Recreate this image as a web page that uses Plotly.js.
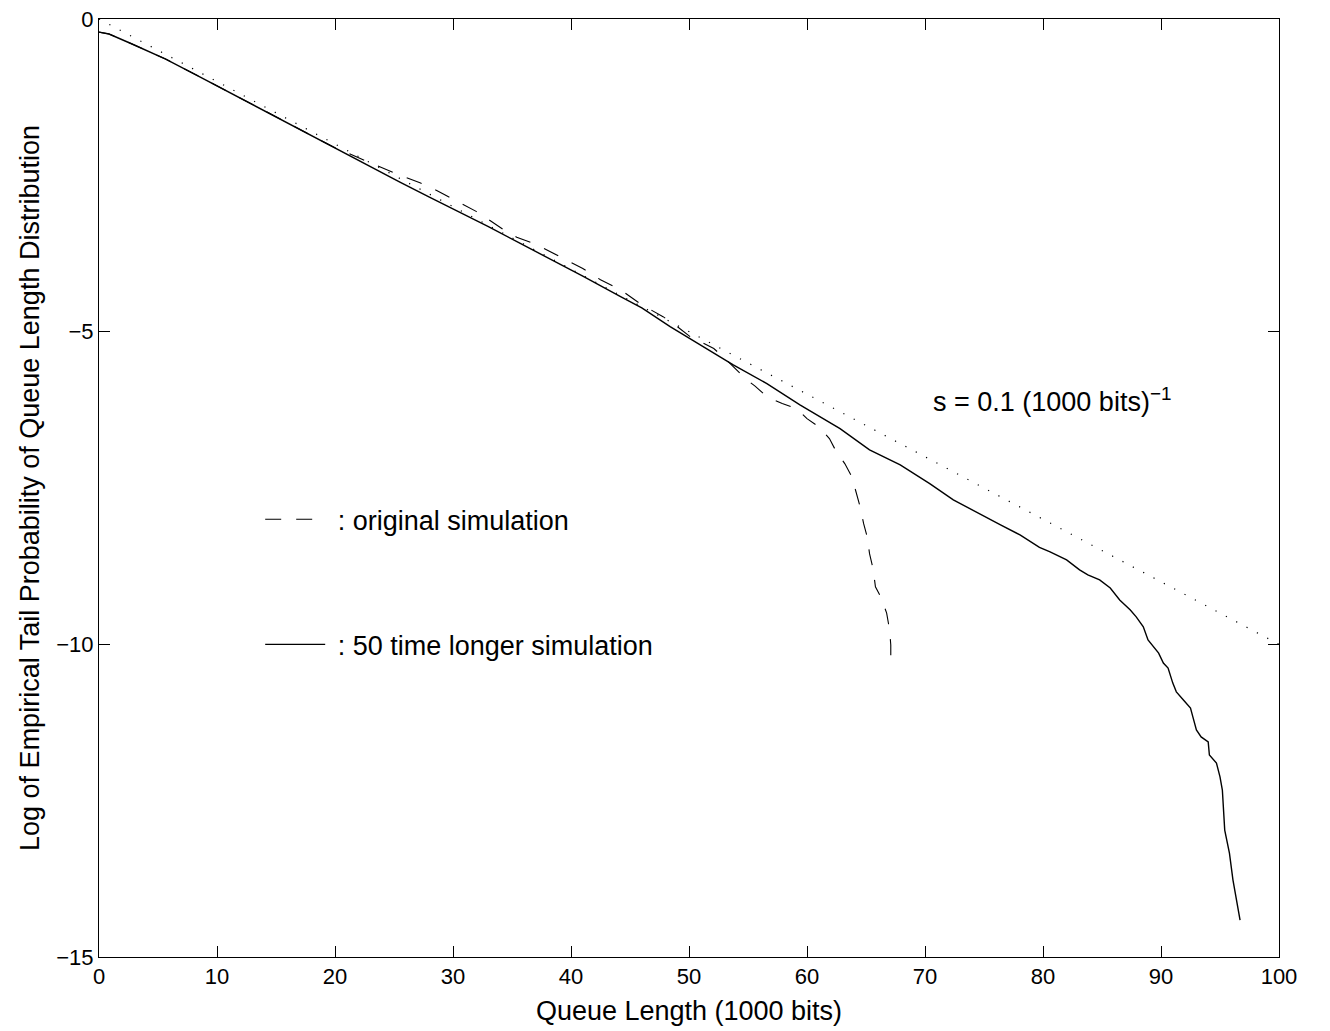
<!DOCTYPE html>
<html>
<head>
<meta charset="utf-8">
<script src="https://cdn.plot.ly/plotly-3.0.1.min.js"></script>
<style>html,body{margin:0;padding:0;background:#fff;}#chart{width:1330px;height:1031px;}</style>
</head>
<body>
<div id="chart"></div>
<script>
// Solid line: 50 times longer simulation
var longX = [0, 0.85, 2.8, 5.65, 8.5, 11.3, 14, 16.95, 19.8, 22, 25.5, 28, 30, 33, 35.7, 38, 41, 44.2, 46, 48.4, 50.9, 53.75, 56.6, 59.4, 62.8, 64.2, 65.3, 67.9, 70.4, 72.4, 75.5, 76.4, 78.05, 79.7, 80.6, 82.0, 83.1, 83.8, 84.8, 85.7, 86.5, 87.4, 87.9, 88.5, 88.9, 89.8, 90.2, 90.6, 91.0, 91.3, 91.9, 92.5, 92.7, 93.0, 93.4, 94.0, 94.1, 94.7, 95.0, 95.2, 95.4, 95.8, 96.1, 96.7];
var longY = [-0.21, -0.24, -0.40, -0.64, -0.92, -1.20, -1.47, -1.76, -2.05, -2.27, -2.61, -2.85, -3.04, -3.32, -3.59, -3.81, -4.11, -4.44, -4.62, -4.92, -5.21, -5.53, -5.83, -6.17, -6.55, -6.74, -6.89, -7.13, -7.43, -7.69, -8.01, -8.09, -8.25, -8.45, -8.52, -8.65, -8.81, -8.89, -8.97, -9.10, -9.29, -9.45, -9.56, -9.72, -9.93, -10.14, -10.30, -10.38, -10.62, -10.76, -10.89, -11.02, -11.16, -11.37, -11.48, -11.56, -11.77, -11.90, -12.12, -12.33, -12.97, -13.34, -13.77, -14.41];

// Dashed line: original simulation
var origX = [0, 0.85, 2.8, 5.65, 8.5, 11.3, 14, 16.95, 19.8, 22, 25, 27.2, 28, 29.3, 32.0, 34.3, 35.4, 37.1, 39.3, 41.0, 42.5, 44.2, 46.0, 47.8, 48.8, 50.1, 52.1, 53.0, 54.9, 55.6, 56.6, 57.9, 59.1, 60.0, 61.0, 61.9, 62.4, 63.2, 63.8, 64.1, 64.5, 64.8, 65.1, 65.3, 65.6, 65.8, 66.3, 66.75, 67.0, 67.1, 67.1];
var origY = [-0.21, -0.24, -0.40, -0.64, -0.92, -1.20, -1.47, -1.76, -2.04, -2.22, -2.46, -2.62, -2.68, -2.81, -3.08, -3.37, -3.49, -3.61, -3.83, -3.99, -4.17, -4.33, -4.57, -4.76, -4.89, -5.08, -5.27, -5.42, -5.77, -5.87, -6.04, -6.15, -6.23, -6.39, -6.52, -6.71, -6.89, -7.11, -7.32, -7.53, -7.80, -8.07, -8.28, -8.55, -8.79, -9.08, -9.26, -9.50, -9.77, -10.01, -10.28];

// Dotted reference line, slope s = 0.1
var refX = [0, 100];
var refY = [0, -10];

var xTicks = [0, 10, 20, 30, 40, 50, 60, 70, 80, 90, 100];
var yTicks = [-15, -10, -5, 0];

var labelOrig = '\u00a0: original simulation';
var labelLong = '\u00a0: 50 time longer simulation';
var slopeText = 's = 0.1 (1000 bits)<sup>\u22121</sup>';
var xTitle = 'Queue Length (1000 bits)';
var yTitle = 'Log of Empirical Tail Probability of Queue Length Distribution';

var FONT = 'Liberation Sans, Arial, Helvetica, sans-serif';

var traces = [
  {x: refX, y: refY, mode: 'lines', line: {color: '#000', width: 1.2, dash: '1.2px,10.5px'}, showlegend: false, hoverinfo: 'skip'},
  {x: origX, y: origY, mode: 'lines', name: labelOrig, legendgroup: 'a', line: {color: '#000', width: 1.1, dash: '16px,15px'}},
  {x: longX, y: longY, mode: 'lines', name: labelLong, legendgroup: 'b', line: {color: '#000', width: 1.4}}
];

var layout = {
  width: 1330, height: 1031,
  margin: {l: 99, r: 51, t: 19, b: 74},
  paper_bgcolor: '#fff', plot_bgcolor: '#fff',
  font: {family: FONT, size: 27, color: '#000'},
  xaxis: {
    range: [0, 100], tickvals: xTicks, ticks: 'inside', ticklen: 11, tickwidth: 1, tickcolor: '#000',
    showline: true, linecolor: '#000', linewidth: 1, mirror: 'ticks', showgrid: false, zeroline: false,
    tickfont: {size: 22}, title: {text: xTitle, font: {size: 27}, standoff: 12}
  },
  yaxis: {
    range: [-15, 0], tickvals: yTicks, ticks: 'inside', ticklen: 11, tickwidth: 1, tickcolor: '#000',
    showline: true, linecolor: '#000', linewidth: 1, mirror: 'ticks', showgrid: false, zeroline: false,
    tickfont: {size: 22}, title: {text: yTitle, font: {size: 27}, standoff: 8}
  },
  legend: {
    x: 0.1366, y: 0.4923, xanchor: 'left', yanchor: 'top', bgcolor: 'rgba(0,0,0,0)', borderwidth: 0,
    font: {size: 27}, itemwidth: 60, tracegroupgap: 87
  },
  annotations: [
    {x: 70.5, y: -6.09, xref: 'x', yref: 'y', text: slopeText, showarrow: false, xanchor: 'left', yanchor: 'middle', font: {size: 27}}
  ],
  showlegend: true
};

Plotly.newPlot('chart', traces, layout, {displayModeBar: false, staticPlot: true});
</script>
</body>
</html>
